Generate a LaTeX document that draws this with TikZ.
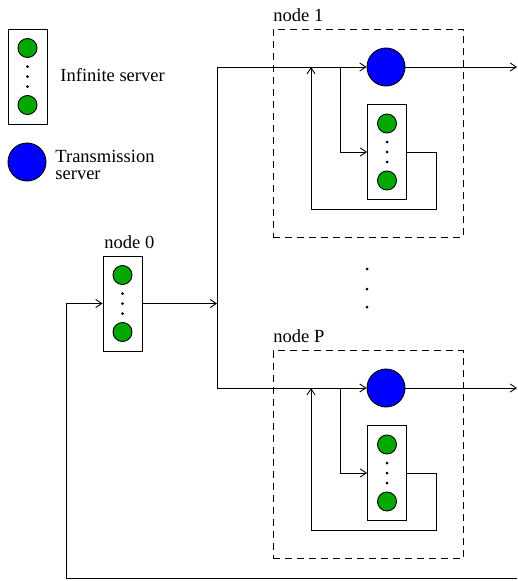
\documentclass[tikz,border=0pt]{standalone}
\usepackage{fontspec}
\setmainfont{Liberation Serif}
\usetikzlibrary{arrows.meta,positioning}
\definecolor{srvgreen}{RGB}{0,168,0}
\definecolor{srvblue}{RGB}{0,0,255}
\begin{document}
\begin{tikzpicture}[x=1pt,y=-1pt,line width=0.9pt,
font=\fontsize{18.5}{17}\selectfont,
isbox/.style={draw,fill=white,inner sep=0pt,minimum width=39pt,minimum height=95pt},
job/.style={circle,draw,fill=srvgreen,inner sep=0pt,minimum size=19pt},
tx/.style={circle,draw,fill=srvblue,inner sep=0pt,minimum size=38pt},
vdot/.style={circle,fill,inner sep=0pt,minimum size=3pt},
site/.style={draw,dash pattern=on 7pt off 5pt,inner sep=0pt,minimum width=190pt,minimum height=208pt},
lbl/.style={anchor=west,inner sep=0pt},
arr/.style={-{Straight Barb[length=6pt,width=8pt]}}]
\useasboundingbox (0,0) rectangle (517,581);
% legend
\node[isbox] (key) at (27.5,76.5) {};
\node[lbl] (keytxt) at (60,75) {Infinite server};
\node[tx] (keytx) at (27,162) {};
\node[lbl,align=left] (keytxtb) at (55,165) {Transmission\\server};
% sites
\node[site] (site1) at (368,133) {};
\node[site] (siteP) at (368,454.5) {};
\node[lbl] (lab1) at (273,15) {node 1};
\node[lbl] (labP) at (273,336) {node P};
\node[lbl] (lab0) at (104,242) {node 0};
% servers
\node[isbox] (n0) at (122.5,303.5) {};
\node[isbox] (is1) at (387,152) {};
\node[isbox] (isP) at (387,473) {};
\node[tx] (tx1) at (386,67) {};
\node[tx] (txP) at (386,388) {};
\foreach \b in {key,n0,is1,isP}{
  \node[job] (\b-a) at ([yshift=28.5pt]\b.center) {};
  \node[job] (\b-b) at ([yshift=-28.5pt]\b.center) {};
  \foreach \d/\s in {1/10pt,2/0pt,3/-10pt}
    \node[vdot] (\b-d\d) at ([yshift=\s]\b.center) {};
}
\node[vdot] (gap1) at (367,269) {};
\node[vdot] (gap2) at (367,289) {};
\node[vdot] (gap3) at (367,307) {};
% wiring
\coordinate (top) at (217,67);
\coordinate (bot) at (217,388);
\coordinate (br1) at (340,67);
\coordinate (brP) at (340,388);
\coordinate (fb1) at (311,209);
\coordinate (fbP) at (311,530);
\coordinate (exit1) at (517,67);
\coordinate (exitP) at (517,388);
\coordinate (ret) at (517,578);
\coordinate (retc) at (66,578);
\draw (top)--(bot);
\draw[arr] (n0)--(n0 -| top);
\draw[arr] (top)--(tx1);\draw[arr] (bot)--(txP);
\draw[arr] (tx1)--(exit1);\draw[arr] (txP)--(exitP);
\draw[arr] (br1) |- (is1);\draw[arr] (brP) |- (isP);
\draw[arr] (is1.east)--++(29,0) |- (fb1)--(fb1 |- top);
\draw[arr] (isP.east)--++(29,0) |- (fbP)--(fbP |- bot);
\draw[arr] (ret)--(retc) |- (n0);
\end{tikzpicture}
\end{document}
